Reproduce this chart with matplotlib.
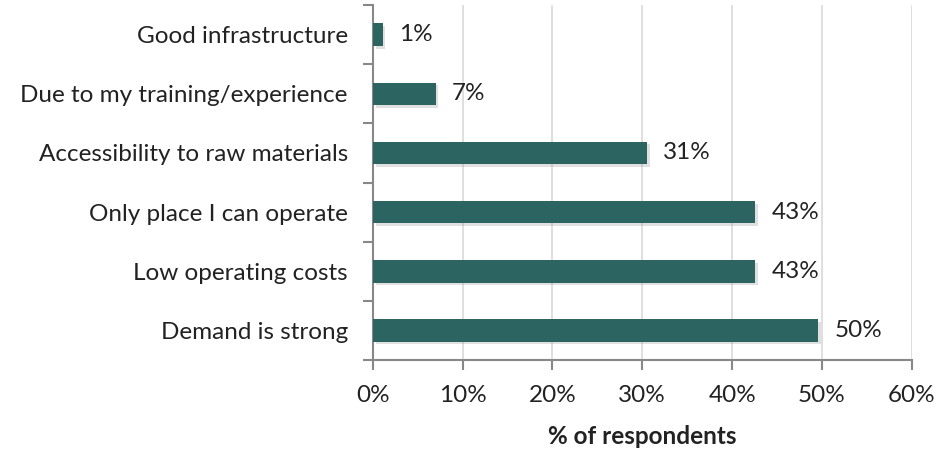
import matplotlib
matplotlib.use("Agg")
from matplotlib import pyplot as plt
from matplotlib import patheffects as pe
import numpy as np

# data (top to bottom in the picture)
categories = ["Good infrastructure", "Due to my training/experience",
              "Accessibility to raw materials", "Only place I can operate",
              "Low operating costs", "Demand is strong"]
values = [1.1, 7.0, 30.5, 42.6, 42.6, 49.6]
labels = ["1%", "7%", "31%", "43%", "43%", "50%"]
xticks = [0, 10, 20, 30, 40, 50, 60]

plt.rcParams['font.family'] = ['Lato', 'DejaVu Sans']
fs = 17.5

fig = plt.figure(figsize=(9.39, 4.54), dpi=100)
ax = fig.add_axes([0.397, 0.207, 0.574, 0.782])

n = len(categories)
y = np.arange(n)[::-1]
bars = ax.barh(y, values, height=0.38, color='#2b6461', zorder=3)
for b in bars:
    b.set_path_effects([pe.SimplePatchShadow(offset=(2, -2), shadow_rgbFace='#999999', alpha=0.3),
                        pe.Normal()])

for yi, v, lab in zip(y, values, labels):
    ax.text(v + 1.8, yi, lab, va='center', ha='left', fontsize=fs, color='#222222')

ax.set_xlim(0, 60)
ax.set_ylim(-0.5, n - 0.5)
ax.set_xticks(xticks)
ax.set_xticklabels([f"{t}%" for t in xticks], fontsize=fs, color='#222222')
ax.set_yticks(y)
ax.set_yticklabels(categories, fontsize=fs, color='#222222')
ax.set_yticks(np.arange(n + 1) - 0.5, minor=True)
ax.tick_params(axis='y', which='major', length=0, pad=18)
ax.tick_params(axis='y', which='minor', length=7, color='#888888', width=1.5)
ax.tick_params(axis='x', length=7, color='#888888', width=1.5, pad=11)

ax.grid(axis='x', color='#d9d9d9', linewidth=1.2, zorder=0)
for s in ['top', 'right']:
    ax.spines[s].set_visible(False)
for s in ['left', 'bottom']:
    ax.spines[s].set_color('#888888')
    ax.spines[s].set_linewidth(1.5)

ax.set_xlabel('% of respondents', fontsize=fs, fontweight='bold', color='#222222', labelpad=14)

fig.savefig('out.png', dpi=100)
